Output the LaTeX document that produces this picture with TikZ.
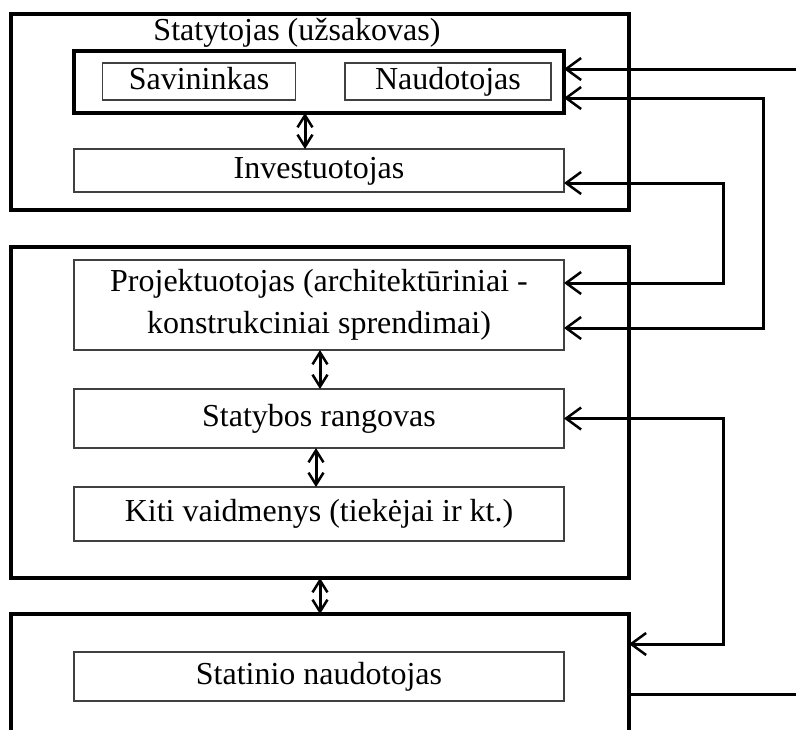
\documentclass[tikz,border=0pt]{standalone}
\usepackage{fontspec}
\setmainfont{Liberation Serif}
\usetikzlibrary{arrows.meta,calc}
\begin{document}
\begin{tikzpicture}[x=1pt,y=-1pt,
  txt/.style={font=\fontsize{32}{42}\selectfont},
  outerbox/.style={draw, line width=4pt, inner sep=0pt, outer sep=0pt, minimum width=618pt},
  groupbox/.style={draw, line width=3.5pt, inner sep=0pt, outer sep=0pt},
  thinbox/.style={draw=black!75, line width=1.2pt, inner sep=0pt, outer sep=0pt, txt, text height=22pt, text depth=7pt},
  widebox/.style={thinbox, minimum width=490pt},
  conn/.style={line width=3pt, {Straight Barb[length=15pt,width=22pt,line width=2.5pt]}-{Straight Barb[length=15pt,width=22pt,line width=2.5pt]}},
  connone/.style={line width=3pt, -{Straight Barb[length=15pt,width=22pt,line width=2.5pt]}},
  plainconn/.style={line width=3pt},
  dbl/.style={line width=3pt, {Straight Barb[length=12pt,width=15pt,line width=2.5pt]}-{Straight Barb[length=12pt,width=15pt,line width=2.5pt]}}
]
\useasboundingbox (0,0) rectangle (796,729);
\clip (0,0) rectangle (796,729);
% outer boxes
\node[outerbox, minimum height=196pt] (outer1) at (320,112) {};
\node[outerbox, minimum height=331pt] (outer2) at (320,412.5) {};
\node[outerbox, minimum height=132pt] (outer3) at (320,680) {};
% top group
\node[txt, text height=22pt, text depth=7pt, inner sep=0pt] (title) at (297,33) {Statytojas (užsakovas)};
\node[groupbox, minimum width=490pt, minimum height=62pt] (own) at (319,82) {};
\node[thinbox, minimum width=193pt, minimum height=37pt] (sav) at (199,81.5) {Savininkas};
\node[thinbox, minimum width=206pt, minimum height=37pt] (nau) at (448,81.5) {Naudotojas};
\node[widebox, minimum height=43pt] (inv) at (319,170.5) {Investuotojas};
% middle group
\node[widebox, minimum height=90pt, align=center, text height=, text depth=] (proj) at (319,305) {Projektuotojas (architektūriniai -\\konstrukciniai sprendimai)};
\node[widebox, minimum height=59pt] (stat) at (319,418.5) {Statybos rangovas};
\node[widebox, minimum height=54pt] (kiti) at (319,514) {Kiti vaidmenys (tiekėjai ir kt.)};
% bottom group
\node[widebox, minimum height=49pt] (statn) at (319,676.5) {Statinio naudotojas};
% vertical double arrows
\draw[dbl] ([xshift=-14pt]own.south) -- ([xshift=-14pt]inv.north);
\draw[dbl] ([xshift=1pt]proj.south) -- ([xshift=1pt]stat.north);
\draw[dbl] ([xshift=-3pt]stat.south) -- ([xshift=-3pt]kiti.north);
\draw[dbl] (outer2.south) -- (outer3.north);
% right-side connectors
\coordinate (ext1) at (800,69);
\coordinate (ext2) at (800,694);
\draw[connone] (ext1) -- (own.east |- ext1);
\draw[conn] ([yshift=-16pt]own.east) -- ++(199,0) |- ([yshift=-23pt]proj.east);
\draw[conn] ([yshift=-12.5pt]inv.east) -- ++(159,0) |- ([yshift=22pt]proj.east);
\draw[conn] (stat.east) -- ++(159,0) |- ([yshift=36pt]outer3.east);
\draw[plainconn] ([yshift=-14pt]outer3.east) -- (ext2);
\end{tikzpicture}
\end{document}
